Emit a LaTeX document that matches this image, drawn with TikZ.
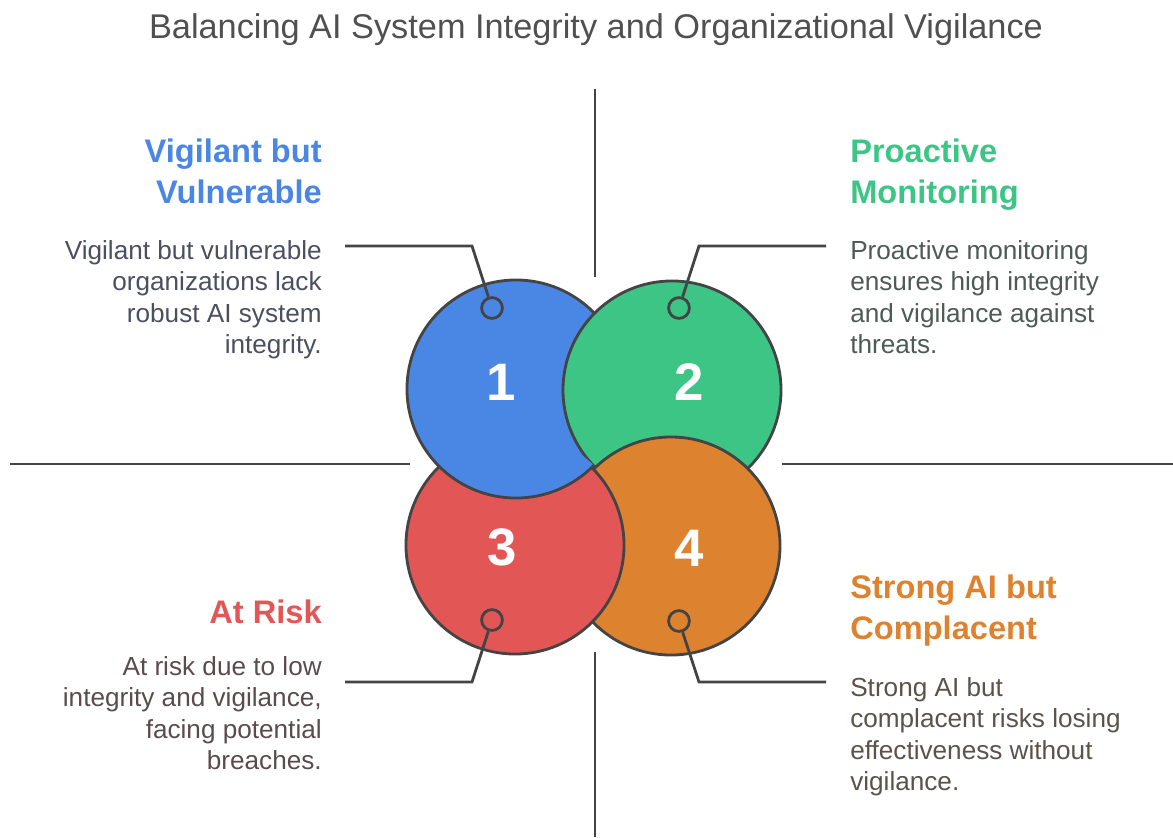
\documentclass[tikz,border=0pt]{standalone}
\usepackage{fontspec}
\setmainfont{Liberation Sans}
\definecolor{ink}{HTML}{444444}
\definecolor{titlegray}{HTML}{505050}
\definecolor{cblue}{HTML}{4A86E3}
\definecolor{cgreen}{HTML}{3DC585}
\definecolor{cred}{HTML}{E35656}
\definecolor{corange}{HTML}{DD8330}
\definecolor{txtblue}{HTML}{4A5060}
\definecolor{txtgreen}{HTML}{4E5A54}
\definecolor{txtred}{HTML}{5A4B4D}
\definecolor{txtorange}{HTML}{5B5249}
\tikzset{
  disc/.style={circle,draw=ink,line width=2pt,minimum size=5.45cm,inner sep=0pt},
  num/.style={text=white,font=\fontsize{37.5}{37.5}\selectfont\bfseries,inner sep=0pt},
  pin/.style={circle,draw=ink,line width=2pt,minimum size=0.52cm,inner sep=0pt},
  leader/.style={draw=ink,line width=2pt},
  axis/.style={draw=ink,line width=2pt},
  head/.style={font=\fontsize{23.2}{28.5}\selectfont\bfseries,inner sep=0pt},
  body/.style={font=\fontsize{18.6}{22.4}\selectfont,inner sep=0pt},
}
\begin{document}
\begin{tikzpicture}[x=0.025cm,y=-0.025cm]
  \useasboundingbox (0,0) rectangle (1173,837);
  \node [anchor=base,text=titlegray,font=\fontsize{24.4}{24.4}\selectfont] (title) at (596,38)
    {Balancing AI System Integrity and Organizational Vigilance};

  % quadrant axes
  \draw [axis] (595,89) -- (595,277);
  \draw [axis] (595,652) -- (595,837);
  \draw [axis] (10,464) -- (410,464);
  \draw [axis] (782,464) -- (1173,464);

  % the four discs, each one overlapping the next
  \node [disc,fill=cblue] (c1) at (516,389) {};
  \node [disc,fill=cgreen] (c2) at (672,390) {};
  \node [disc,fill=corange] (c4) at (671,546) {};
  \node [disc,fill=cred] (c3) at (515,545) {};
  \begin{scope}
    \clip (c3.center) circle [radius=2.8cm];
    \node [disc,fill=cblue] at (c1.center) {};
  \end{scope}

  \node [num] (n1) at (501,382) {1};
  \node [num] (n2) at (689,382) {2};
  \node [num] (n3) at (502,547) {3};
  \node [num] (n4) at (689,548) {4};

  % pins and leaders
  \node [pin] (m1) at (492,308) {};
  \node [pin] (m2) at (679,308) {};
  \node [pin] (m3) at (492,620) {};
  \node [pin] (m4) at (679,621) {};
  \coordinate (e1) at (345,246); \coordinate (k1) at (472,246);
  \coordinate (e2) at (826,246); \coordinate (k2) at (699,246);
  \coordinate (e3) at (345,682); \coordinate (k3) at (472,682);
  \coordinate (e4) at (826,682); \coordinate (k4) at (699,682);
  \draw [leader] (e1) -- (k1) -- (m1);
  \draw [leader] (e2) -- (k2) -- (m2);
  \draw [leader] (e3) -- (k3) -- (m3);
  \draw [leader] (e4) -- (k4) -- (m4);

  % quadrant texts
  \node [head,text=cblue,anchor=north east,align=right] (h1) at (322,139) {Vigilant but\\Vulnerable};
  \node [body,text=txtblue,anchor=north east,align=right] (b1) at (322,240)
    {Vigilant but vulnerable\\organizations lack\\robust AI system\\integrity.};
  \node [head,text=cgreen,anchor=north west,align=left] (h2) at (850,139) {Proactive\\Monitoring};
  \node [body,text=txtgreen,anchor=north west,align=left] (b2) at (850,240)
    {Proactive monitoring\\ensures high integrity\\and vigilance against\\threats.};
  \node [head,text=cred,anchor=north east,align=right] (h3) at (322,600) {At Risk};
  \node [body,text=txtred,anchor=north east,align=right] (b3) at (322,656)
    {At risk due to low\\integrity and vigilance,\\facing potential\\breaches.};
  \node [head,text=corange,anchor=north west,align=left] (h4) at (850,575) {Strong AI but\\Complacent};
  \node [body,text=txtorange,anchor=north west,align=left] (b4) at (850,677)
    {Strong AI but\\complacent risks losing\\effectiveness without\\vigilance.};
\end{tikzpicture}
\end{document}
